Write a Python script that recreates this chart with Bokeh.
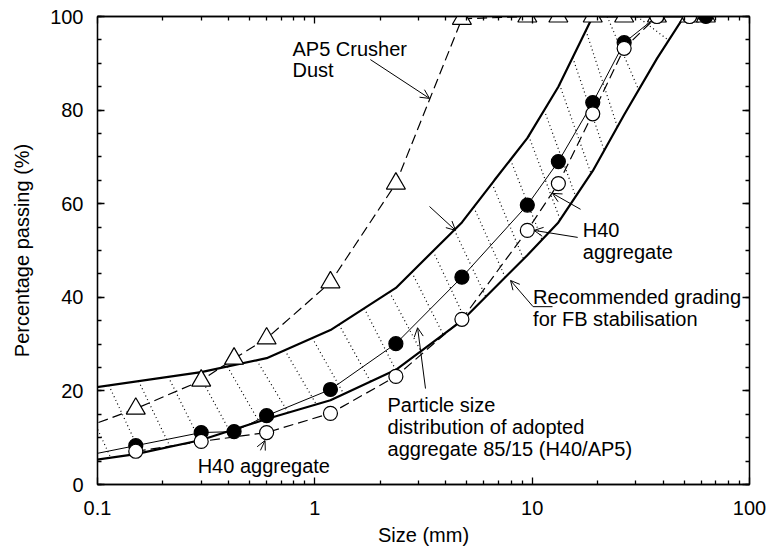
import numpy as np
from bokeh.plotting import figure
from bokeh.models import (Range1d, FixedTicker, LinearAxis, LogAxis, Arrow, OpenHead,
                          CustomJSTickFormatter)
from bokeh.embed import file_html
from bokeh.resources import INLINE
from bokeh.core.properties import value

FONT = "Liberation Sans"

# ---- data (sieve size mm, % passing) ----
ap5_size = [0.075, 0.15, 0.3, 0.425, 0.6, 1.18, 2.36, 4.75, 9.5, 13.2, 19.0, 26.5, 37.5, 53.0, 63.0]
ap5_pass = [11.0, 16.2, 22.2, 26.9, 31.2, 43.2, 64.3, 99.5, 100, 100, 100, 100, 100, 100, 100]

h40_size = [0.15, 0.3, 0.6, 1.18, 2.36, 4.75, 9.5, 13.2, 19.0, 26.5, 37.5, 53.0]
h40_pass = [7.1, 9.2, 11.1, 15.2, 23.1, 35.3, 54.3, 64.3, 79.2, 93.2, 100, 100]

mix_size = [0.075, 0.15, 0.3, 0.425, 0.6, 1.18, 2.36, 4.75, 9.5, 13.2, 19.0, 26.5, 37.5, 53.0, 63.0]
mix_pass = [5.5, 8.3, 11.1, 11.3, 14.7, 20.3, 30.1, 44.3, 59.7, 69.0, 81.6, 94.4, 100, 100, 100]

upper_size = [0.075, 0.3, 0.6, 1.18, 2.36, 4.75, 6.7, 9.5, 13.2, 19.0, 26.5, 37.5, 53.0, 63.0]
upper_pass = [20.0, 24.0, 27.0, 33.0, 42.0, 56.0, 65.0, 74.0, 85.0, 100, 100, 100, 100, 100]

lower_size = [0.075, 0.15, 0.3, 0.6, 1.18, 2.36, 4.75, 9.5, 13.2, 19.0, 26.5, 37.5, 50.0]
lower_pass = [4.5, 6.5, 9.5, 14.0, 18.0, 24.5, 35.0, 49.0, 56.0, 67.0, 79.0, 91.0, 100]

x_ticks = [0.1, 1, 10, 100]
y_ticks = [0, 20, 40, 60, 80, 100]

p = figure(width=768, height=548, x_axis_type="log",
           x_range=Range1d(0.1, 100), y_range=Range1d(0, 100),
           output_backend="svg", toolbar_location=None,
           min_border_left=97, min_border_right=19, min_border_top=16, min_border_bottom=64)
p.background_fill_color = "white"
p.border_fill_color = "white"
p.outline_line_color = "black"
p.outline_line_width = 1.3
p.xgrid.visible = False
p.ygrid.visible = False

minor_x = [m * d for d in (0.1, 1, 10) for m in range(2, 10)]
minor_y = list(range(0, 101, 5))

def style_axis(ax, labels=True):
    ax.axis_line_color = "black"
    ax.axis_line_width = 1.3
    ax.major_tick_in = 7
    ax.major_tick_out = 0
    ax.minor_tick_in = 4
    ax.minor_tick_out = 0
    ax.major_tick_line_color = "black"
    ax.minor_tick_line_color = "black"
    ax.major_tick_line_width = 1.3
    ax.minor_tick_line_width = 1.3
    ax.major_label_text_font = FONT
    ax.major_label_text_font_size = "20px"
    ax.major_label_text_color = "black"
    ax.axis_label_text_font = FONT
    ax.axis_label_text_font_size = "20px"
    ax.axis_label_text_font_style = "normal"
    ax.axis_label_text_color = "black"
    if not labels:
        ax.formatter = CustomJSTickFormatter(code="return ''")
        ax.major_label_standoff = 0

xax = p.xaxis[0]
yax = p.yaxis[0]
xax.ticker = FixedTicker(ticks=x_ticks, minor_ticks=minor_x)
yax.ticker = FixedTicker(ticks=y_ticks, minor_ticks=minor_y)
style_axis(xax)
style_axis(yax)
xax.formatter = CustomJSTickFormatter(code="return tick < 1 ? tick.toFixed(1) : tick.toFixed(0)")
xax.axis_label = "Size (mm)"
yax.axis_label = "Percentage passing (%)"
xax.major_label_standoff = 16
xax.axis_label_standoff = 6
yax.major_label_standoff = 14
yax.axis_label_standoff = 14

top = LogAxis(ticker=FixedTicker(ticks=x_ticks, minor_ticks=minor_x))
style_axis(top, labels=False)
p.add_layout(top, "above")
right = LinearAxis(ticker=FixedTicker(ticks=y_ticks, minor_ticks=minor_y))
style_axis(right, labels=False)
p.add_layout(right, "right")

# ---- recommended grading envelope ----
p.line(upper_size, upper_pass, line_color="black", line_width=2.2)
p.line(lower_size, lower_pass, line_color="black", line_width=2.2)

# dotted hatching between the envelopes (derived from envelope arrays)
lu = np.log10(upper_size)
ll = np.log10(lower_size)
t = np.linspace(np.log10(0.06), np.log10(63), 4000)
yu = np.interp(t, lu, upper_pass)
arc = np.concatenate([[0], np.cumsum(np.hypot(np.diff(t) * 217.3, np.diff(yu) * 4.68))])
marks = np.arange(0, arc[-1], 30)
ts = np.interp(marks, arc, t)
ys = np.interp(ts, lu, upper_pass)
te = ts + 0.145
ye = np.interp(te, ll, lower_pass)
keep = ye < 99
p.segment(10 ** ts[keep], ys[keep], 10 ** te[keep], ye[keep],
          line_color="black", line_width=1.2, line_dash="1 3")

# ---- AP5 crusher dust ----
p.line(ap5_size, ap5_pass, line_color="black", line_width=1.2, line_dash="10 5")
p.scatter(ap5_size, ap5_pass, marker="triangle", size=19, fill_color="white",
          line_color="black", line_width=1.2)

# ---- blend and H40 ----
p.line(mix_size, mix_pass, line_color="black", line_width=1.0)
p.line(h40_size, h40_pass, line_color="black", line_width=1.2, line_dash="10 5")
p.scatter(mix_size, mix_pass, marker="circle", size=14, fill_color="black",
          line_color="black", line_width=1.2)
p.scatter(h40_size, h40_pass, marker="circle", size=14, fill_color="white",
          line_color="black", line_width=1.2)

# ---- annotations ----
def label(x, ys, lines):
    p.text(x=[x] * len(lines), y=ys, text=lines, text_font=value(FONT),
           text_font_size="20px", text_color="black",
           text_align="left", text_baseline="middle")

label(0.789, [93.0, 88.5], ["AP5 Crusher", "Dust"])
label(17.1, [54.3, 49.6], ["H40", "aggregate"])
label(10.1, [40.0, 35.3], ["Recommended grading", "for FB stabilisation"])
label(2.16, [16.9, 12.2, 7.5], ["Particle size", "distribution of adopted",
                                "aggregate 85/15 (H40/AP5)"])
label(0.289, [3.85], ["H40 aggregate"])

def arrow(x0, y0, x1, y1):
    p.add_layout(Arrow(end=OpenHead(size=9, line_width=1, line_color="black"),
                       x_start=x0, y_start=y0, x_end=x1, y_end=y1,
                       line_color="black", line_width=1))

arrow(1.80, 90.8, 3.37, 82.5)
arrow(3.37, 59.4, 4.44, 54.3)
arrow(16.2, 52.8, 10.2, 54.3)
arrow(16.7, 58.8, 12.4, 62.2)
p.line([12.4, 10.1], [38.0, 38.0], line_color="black", line_width=1)
arrow(10.1, 38.0, 7.95, 43.6)
arrow(3.23, 20.5, 2.97, 33.5)
arrow(0.562, 7.3, 0.59, 9.4)

open("out.html", "w").write(file_html(p, INLINE))
